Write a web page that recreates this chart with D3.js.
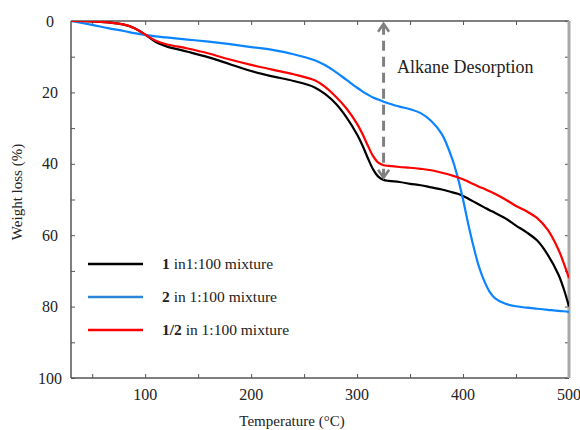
<!DOCTYPE html>
<html>
  <head>
    <style type="text/css">
      body {
        margin: 0;
        background: #fff;
        overflow: hidden;
      }
      svg text { font-family: "Liberation Serif", "DejaVu Serif", serif; fill: #222; }
    </style>
    <meta charset="utf-8">
    <title>Weight loss vs temperature</title>
    <script src="https://d3js.org/d3.v7.min.js"></script>
  </head>
  <body>
    <svg width="580" height="430" font-family="Liberation Serif, DejaVu Serif, serif"></svg>
    <script>
      // temperature grid (°C) shared by the three curves
      const temps = [30, 50, 65, 80, 90, 100, 110, 120, 140, 160, 180, 200, 220, 240, 260, 270, 280, 290, 300,
        305, 310, 315, 320, 325, 330, 340, 350, 360, 370, 380, 390, 395, 400, 405, 410, 415, 420, 425, 430,
        440, 450, 460, 470, 480, 490, 495, 500];
      // weight loss (%)
      const loss1 = [0, 0.1, 0.4, 1.0, 2.0, 3.8, 5.9, 7.1, 8.6, 10.2, 12.1, 14.0, 15.5, 16.8, 18.6, 20.5, 23.2, 27.0, 31.8,
        34.8, 38.3, 41.5, 43.6, 44.5, 44.8, 45.1, 45.6, 46.0, 46.6, 47.2, 48.0, 48.4, 49.0, 49.8, 50.6, 51.4, 52.2, 53.0, 53.7,
        55.3, 57.3, 59.2, 61.5, 65.5, 71.0, 75.0, 80.0];
      const loss2 = [0, 1.1, 2.0, 2.8, 3.4, 3.9, 4.3, 4.6, 5.2, 5.8, 6.5, 7.3, 8.1, 9.3, 11.0, 12.4, 14.3, 16.5, 18.7,
        19.7, 20.6, 21.4, 22.0, 22.6, 23.1, 24.0, 24.7, 25.8, 28.0, 31.7, 38.8, 43.8, 50.0, 57.0, 63.3, 68.8, 72.8, 75.8, 77.6,
        79.2, 79.9, 80.3, 80.6, 80.9, 81.2, 81.3, 81.5];
      const loss12 = [0, 0.1, 0.4, 1.0, 2.0, 3.8, 5.5, 6.5, 7.7, 9.1, 10.8, 12.3, 13.6, 14.9, 16.6, 18.5, 21.2, 24.5, 28.8,
        31.6, 34.8, 37.8, 39.7, 40.4, 40.6, 40.9, 41.1, 41.4, 41.8, 42.5, 43.3, 43.8, 44.3, 45.0, 45.7, 46.4, 47.0, 47.7, 48.4,
        50.0, 51.8, 53.3, 55.2, 58.5, 64.0, 67.8, 72.0];

      const seriesNames = ['1 in1:100 mixture', '2 in 1:100 mixture', '1/2 in 1:100 mixture'];
      const seriesBold = ['1', '2', '1/2'];
      const seriesColors = ['#000000', '#0a84ff', '#ff0000'];
      const legendColors = ['#000000', '#2a86d6', '#ff0000'];

      const xTicks = [100, 200, 300, 400, 500];
      const yTicks = [0, 20, 40, 60, 80, 100];
      const arrowT = 325, arrowFrom = 0.5, arrowTo = 44.2;

      const svg = d3.select('svg');
      const margin = { left: 71, right: 11, top: 21, bottom: 52 };
      const W = +svg.attr('width'), H = +svg.attr('height');
      const innerW = W - margin.left - margin.right;
      const innerH = H - margin.top - margin.bottom;

      const x = d3.scaleLinear().domain([30, 500]).range([0, innerW]);
      const y = d3.scaleLinear().domain([0, 100]).range([0, innerH]);

      const g = svg.append('g').attr('transform', `translate(${margin.left},${margin.top})`);

      // clip so curves stop at the frame
      svg.append('defs').append('clipPath').attr('id', 'clip')
        .append('rect').attr('width', innerW).attr('height', innerH);

      // axes: ticks pointing inward
      const minorX = d3.range(50, 501, 50);
      const minorY = d3.range(0, 101, 10);
      const axisStyle = sel => {
        sel.select('.domain').remove();
        sel.selectAll('line').attr('stroke', '#555').attr('stroke-width', 1);
        sel.selectAll('text').remove();
      };
      g.append('g').attr('transform', `translate(0,${innerH})`)
        .call(d3.axisBottom(x).tickValues(minorX).tickSize(-4)).call(axisStyle);
      g.append('g')
        .call(d3.axisTop(x).tickValues(minorX).tickSize(-4)).call(axisStyle);
      g.append('g')
        .call(d3.axisLeft(y).tickValues(minorY).tickSize(-4)).call(axisStyle);
      g.append('g').attr('transform', `translate(${innerW},0)`)
        .call(d3.axisRight(y).tickValues(minorY).tickSize(-4)).call(axisStyle);

      // frame
      g.append('line').attr('x1', 0).attr('x2', innerW).attr('y1', 0).attr('y2', 0)
        .attr('stroke', '#555').attr('stroke-width', 1.5);
      g.append('line').attr('x1', 0).attr('x2', innerW).attr('y1', innerH).attr('y2', innerH)
        .attr('stroke', '#555').attr('stroke-width', 1.5);
      g.append('line').attr('x1', 0).attr('x2', 0).attr('y1', 0).attr('y2', innerH)
        .attr('stroke', '#555').attr('stroke-width', 1.5);
      g.append('line').attr('x1', innerW).attr('x2', innerW).attr('y1', 0).attr('y2', innerH)
        .attr('stroke', '#a8a8a8').attr('stroke-width', 3);

      // tick labels
      g.selectAll('.xl').data(xTicks).enter().append('text')
        .attr('x', d => x(d)).attr('y', innerH + 22)
        .attr('text-anchor', 'middle').style('font-size', '16px').text(d => d);
      g.selectAll('.yl').data(yTicks).enter().append('text')
        .attr('x', -21).attr('y', d => y(d)).attr('dy', '0.35em')
        .attr('text-anchor', 'middle').style('font-size', '16px').text(d => d);

      // axis titles
      svg.append('text').attr('x', 292).attr('y', 426).attr('text-anchor', 'middle')
        .style('font-size', '15px').text('Temperature (°C)');
      svg.append('text').attr('transform', 'translate(22,192) rotate(-90)').attr('text-anchor', 'middle')
        .style('font-size', '15px').text('Weight loss (%)');

      // curves
      const allLoss = [loss1, loss2, loss12];
      const line = d3.line().x(d => x(d[0])).y(d => y(d[1])).curve(d3.curveCatmullRom.alpha(0.5));
      const plot = g.append('g').attr('clip-path', 'url(#clip)');
      allLoss.forEach((vals, i) => {
        plot.append('path')
          .datum(temps.map((t, j) => [t, vals[j]]))
          .attr('fill', 'none').attr('stroke', seriesColors[i]).attr('stroke-width', 2.2)
          .attr('d', line);
      });

      // alkane desorption arrow
      const ax = x(arrowT), ay1 = y(arrowFrom), ay2 = y(arrowTo);
      g.append('line').attr('x1', ax).attr('x2', ax).attr('y1', ay1 + 2).attr('y2', ay2 - 2)
        .attr('stroke', '#808080').attr('stroke-width', 3).attr('stroke-dasharray', '10,6');
      g.append('path').attr('d', `M${ax - 5.5},${ay1 + 9}L${ax},${ay1 + 1}L${ax + 5.5},${ay1 + 9}`)
        .attr('fill', 'none').attr('stroke', '#808080').attr('stroke-width', 2.5);
      g.append('path').attr('d', `M${ax - 5.5},${ay2 - 9}L${ax},${ay2 - 1}L${ax + 5.5},${ay2 - 9}`)
        .attr('fill', 'none').attr('stroke', '#808080').attr('stroke-width', 2.5);
      svg.append('text').attr('x', 397).attr('y', 73).style('font-size', '18px').text('Alkane Desorption');

      // legend
      const legend = svg.append('g');
      seriesNames.forEach((name, i) => {
        const ly = 264 + i * 33;
        legend.append('line').attr('x1', 88).attr('x2', 143).attr('y1', ly).attr('y2', ly)
          .attr('stroke', legendColors[i]).attr('stroke-width', 2.5);
        const t = legend.append('text').attr('x', 162).attr('y', ly + 5).style('font-size', '15.5px');
        t.append('tspan').style('font-weight', 'bold').text(seriesBold[i]);
        t.append('tspan').text(name.slice(seriesBold[i].length));
      });
    </script>
  </body>
</html>
